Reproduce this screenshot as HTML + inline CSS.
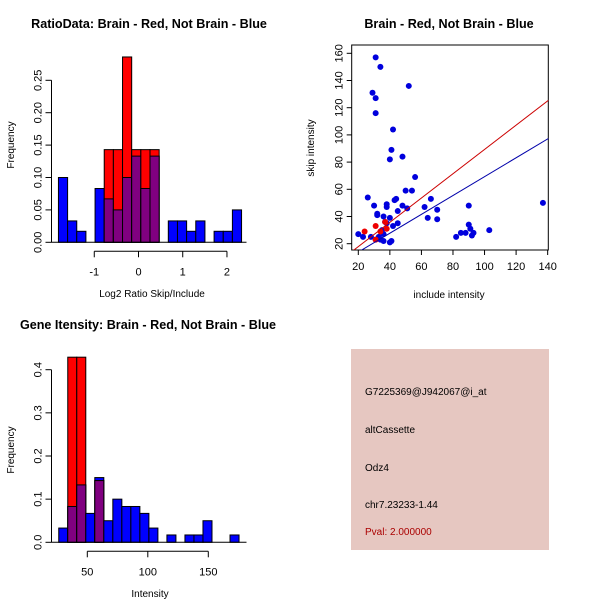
<!DOCTYPE html>
<html><head><meta charset="utf-8"><style>
body{margin:0;background:#fff}
svg{display:block;font-family:"Liberation Sans",Arial,sans-serif}
</style></head><body>
<svg id="svg" width="600" height="600" viewBox="0 0 600 600">
<rect width="600" height="600" fill="#fff"/>
</svg>
<script>
// ---- Ratio histogram data ----
const ratioBinStart = -1.81;
const ratioBinWidth = 0.207;
const ratioBlue = [0.1,0.033,0.017,0,0.083,0.067,0.05,0.1,0.133,0.083,0.133,0,0.033,0.033,0.017,0.033,0,0.017,0.017,0.05];
const ratioRed  = [0,0,0,0,0,0.143,0.143,0.286,0.143,0.143,0.143,0,0,0,0,0,0,0,0,0];
const ratioXTicks = [-1,0,1,2];
const ratioYTicks = ["0.00","0.05","0.10","0.15","0.20","0.25"];
// ---- Intensity histogram data ----
const intBinStart = 26.4;
const intBinWidth = 7.45;
const intBlue = [0.033,0.083,0.133,0.067,0.15,0.05,0.1,0.083,0.083,0.067,0.033,0,0.017,0,0.017,0.017,0.05,0,0,0.017];
const intRed  = [0,0.429,0.429,0,0.143,0,0,0,0,0,0,0,0,0,0,0,0,0,0,0];
const intXTicks = [50,100,150];
const intYTicks = ["0.0","0.1","0.2","0.3","0.4"];
// ---- Scatter data ----
const blueX = [31,34,29,31,31,52,42,41,40,48,56,50,54,26,30,38,38,43,44,48,45,51,62,66,70,64,70,32,32,36,40,37,38,45,42,35,36,33,28,20,23,36,40,41,34,82,85,88,91,90,92,93,90,103,137,31];
const blueY = [157,150,131,127,116,136,104,89,82,84,69,59,59,54,48,49,47,52,53,48,44,46,47,53,45,39,38,42,41,40,39,36,35,35,33,30,27,25,25,27,25,22,21,22,23,25,28,28,31,34,26,28,48,30,50,23];
const redX = [24,31,34,38,31,37];
const redY = [29,33,29,31,23,36];
const redSlope = 0.893;
const blueSlope = 0.693;
const scXTicks = [20,40,60,80,100,120,140];
const scYTicks = [20,40,60,80,100,120,140,160];

const NS="http://www.w3.org/2000/svg";
const svg=document.getElementById('svg');
function el(tag,attrs,parent,text){const e=document.createElementNS(NS,tag);for(const k in attrs)e.setAttribute(k,attrs[k]);if(text!==undefined)e.textContent=text;(parent||svg).appendChild(e);return e;}
function txt(x,y,s,opts,name){const t=el('text',Object.assign({x:x,y:y,'font-size':11,fill:'#000'},opts||{}),svg,s);


return t;}

function hist(cfg){
  const g=el('g',{});
  
  
  const X=v=>cfg.x0+(v-cfg.xv0)*cfg.xs, Y=v=>cfg.y0-v*cfg.ys;
  cfg.blue.forEach((b,i)=>{
    const l=X(cfg.bs+i*cfg.bw), r=X(cfg.bs+(i+1)*cfg.bw);
    const red=cfg.red[i];
    if(b>0){const rc=el('rect',{x:l,y:Y(b),width:r-l,height:Y(0)-Y(b),fill:'#0000ff',stroke:'#000','stroke-width':1},g);
      
      }
    if(red>0){const rc=el('rect',{x:l,y:Y(red),width:r-l,height:Y(0)-Y(red),fill:'#ff0000',stroke:'#000','stroke-width':1},g);
      
      }
    const m=Math.min(b,red);
    if(m>0){const rc=el('rect',{x:l,y:Y(m),width:r-l,height:Y(0)-Y(m),fill:'#800080',stroke:'#000','stroke-width':1},g);
      
      }
  });
  const yv=cfg.yt.map(Number);
  el('line',{x1:cfg.yax,x2:cfg.yax,y1:Y(yv[0]),y2:Y(yv[yv.length-1]),stroke:'#000'},g);
  cfg.yt.forEach(t=>{const y=Y(+t);el('line',{x1:cfg.yax-6,x2:cfg.yax,y1:y,y2:y,stroke:'#000'},g);
    const tt=el('text',{x:0,y:0,'font-size':11,'text-anchor':'middle',transform:`translate(${cfg.yax-10},${y}) rotate(-90)`},g,t);
    
    });
  const xa=cfg.y0+9;
  el('line',{x1:X(cfg.xt[0]),x2:X(cfg.xt[cfg.xt.length-1]),y1:xa,y2:xa,stroke:'#000'},g);
  cfg.xt.forEach(t=>{const x=X(t);el('line',{x1:x,x2:x,y1:xa,y2:xa+6,stroke:'#000'},g);
    const tt=el('text',{x:x,y:xa+24,'font-size':11,'text-anchor':'middle'},g,String(t));
    
    });
  el('line',{x1:cfg.yax,x2:cfg.yax+195,y1:cfg.y0,y2:cfg.y0,stroke:'#000'},g);
}
hist({name:'ratio-histogram',blue:ratioBlue,red:ratioRed,bs:ratioBinStart,bw:ratioBinWidth,x0:138.5,xv0:0,xs:44.23,y0:242.3,ys:648,yax:51.5,yt:ratioYTicks,xt:ratioXTicks});
hist({name:'intensity-histogram',blue:intBlue,red:intRed,bs:intBinStart,bw:intBinWidth,x0:87.3,xv0:50,xs:1.21,y0:542.3,ys:431.5,yax:51.5,yt:intYTicks,xt:intXTicks});

txt(149,28,'RatioData: Brain - Red, Not Brain - Blue',{'font-weight':'bold','font-size':12.6,'text-anchor':'middle'},'ratio-title');
txt(14,145,'Frequency',{'font-size':10,'text-anchor':'middle',transform:'rotate(-90 14 145)'},'ratio-y-title');
txt(152,297,'Log2 Ratio Skip/Include',{'font-size':10,'text-anchor':'middle'},'ratio-x-title');
txt(148,329,'Gene Itensity: Brain - Red, Not Brain - Blue',{'font-weight':'bold','font-size':12.6,'text-anchor':'middle'},'intensity-title');
txt(14,450,'Frequency',{'font-size':10,'text-anchor':'middle',transform:'rotate(-90 14 450)'},'intensity-y-title');
txt(150,597,'Intensity',{'font-size':10,'text-anchor':'middle'},'intensity-x-title');

(function(){
  const g=el('g',{});
  
  
  const X=v=>358.3+(v-20)*1.578, Y=v=>243.7-(v-20)*1.36;
  const L=351.7,R=548.3,T=45,B=250;
  const cp=el('clipPath',{id:'cp'},g);el('rect',{x:L,y:T,width:R-L,height:B-T},cp);
  el('rect',{x:L,y:T,width:R-L,height:B-T,fill:'none',stroke:'#000'},g);
  blueX.forEach((x,i)=>{const c=el('circle',{cx:X(x),cy:Y(blueY[i]),r:3,fill:'#0000dd'},g);
    
    });
  redX.forEach((x,i)=>{const c=el('circle',{cx:X(x),cy:Y(redY[i]),r:3,fill:'#ee0000'},g);
    
    });
  const lr=el('line',{x1:X(0),y1:Y(0),x2:X(150),y2:Y(150*redSlope),stroke:'#cc0000','clip-path':'url(#cp)'},g);
  
  
  const lb=el('line',{x1:X(0),y1:Y(0),x2:X(150),y2:Y(150*blueSlope),stroke:'#0000aa','clip-path':'url(#cp)'},g);
  
  
  scXTicks.forEach(t=>{el('line',{x1:X(t),x2:X(t),y1:B,y2:B+5,stroke:'#000'},g);
    const tt=el('text',{x:X(t),y:B+20,'font-size':11,'text-anchor':'middle'},g,String(t));
    
    });
  scYTicks.forEach(t=>{el('line',{x1:L-5,x2:L,y1:Y(t),y2:Y(t),stroke:'#000'},g);
    const tt=el('text',{x:0,y:0,'font-size':11,'text-anchor':'middle',transform:`translate(${L-9},${Y(t)}) rotate(-90)`},g,String(t));
    
    });
})();
txt(449,28,'Brain - Red, Not Brain - Blue',{'font-weight':'bold','font-size':12.6,'text-anchor':'middle'},'scatter-title');
txt(449,298,'include intensity',{'font-size':10,'text-anchor':'middle'},'scatter-x-title');
txt(314,148,'skip intensity',{'font-size':10,'text-anchor':'middle',transform:'rotate(-90 314 148)'},'scatter-y-title');

const pr=el('rect',{x:351,y:349,width:198,height:201,fill:'#e6c7c1'});


txt(365,395,'G7225369@J942067@i_at',{'font-size':10},'probe-id');
txt(365,433,'altCassette',{'font-size':10},'event-type');
txt(365,471,'Odz4',{'font-size':10},'gene-name');
txt(365,508,'chr7.23233-1.44',{'font-size':10},'location');
txt(365,535,'Pval: 2.000000',{'font-size':10,fill:'#aa0000'},'p-value');
</script>
</body></html>
